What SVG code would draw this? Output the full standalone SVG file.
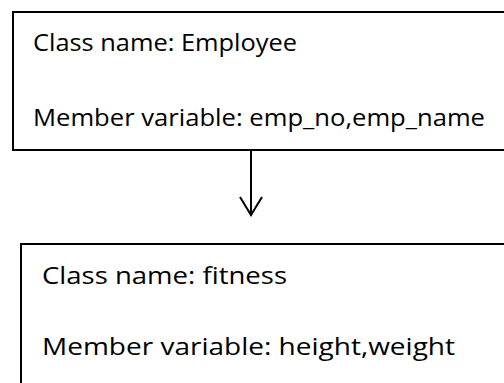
<svg xmlns="http://www.w3.org/2000/svg" width="504" height="383" viewBox="0 0 504 383">
<style>
.box{fill:#fff;stroke:#000;stroke-width:2}
.t{font-family:"Open Sans","Noto Sans","Liberation Sans",sans-serif;font-size:24px;fill:#000}
.c{fill:none;stroke:#000;stroke-width:2}
</style>
<rect width="504" height="383" fill="#fff"/>
<g id="employee">
<rect class="box" x="13" y="12" width="500" height="138"/>
<text class="t" x="33" y="51" textLength="264" lengthAdjust="spacingAndGlyphs">Class name: Employee</text>
<text class="t" x="33" y="126" textLength="452" lengthAdjust="spacingAndGlyphs">Member variable: emp_no,emp_name</text>
</g>
<g id="fitness">
<rect class="box" x="21" y="244" width="500" height="150"/>
<text class="t" x="42" y="284" textLength="245" lengthAdjust="spacingAndGlyphs">Class name: fitness</text>
<text class="t" x="42" y="355" textLength="413" lengthAdjust="spacingAndGlyphs">Member variable: height,weight</text>
</g>
<g id="connectors">
<line class="c" x1="251" y1="150" x2="251" y2="215"/>
<polyline class="c" points="240,197 251,215 262,197"/>
</g>
</svg>
